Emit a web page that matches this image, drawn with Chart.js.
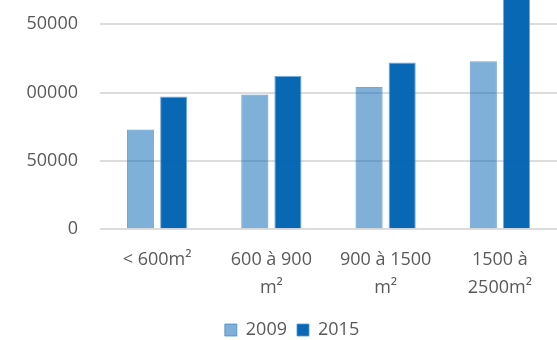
<!DOCTYPE html>
<html>
<head>
<meta charset="utf-8">
<script src="https://cdn.jsdelivr.net/npm/chart.js@4/dist/chart.umd.min.js"></script>
<style>
  html, body { margin: 0; padding: 0; background: #fff; overflow: hidden; }
  /* the reference picture is cut off above the 150000 line, so the canvas is shifted up */
  #wrap { width: 557px; height: 340px; overflow: hidden; }
  #barChart { display: block; margin-top: -77px; }
</style>
</head>
<body>
<div id="wrap"><canvas id="barChart" width="557" height="426"></canvas></div>
<script>
let categories = [['< 600m²'], ['600 à 900', 'm²'], ['900 à 1500', 'm²'], ['1500 à', '2500m²']];
let values2009 = [73000, 98500, 104000, 122800];
let values2015 = [97000, 112000, 122000, 185000];
let tickStep = 50000;
let axisMax = 200000;

let barChartDraw = function () {
    let painter = document.getElementById('barChart').getContext('2d');
    window.barChart = new Chart(painter, {
        type: 'bar',
        data: {
            labels: categories,
            datasets: [{
                label: '2009',
                data: values2009,
                backgroundColor: 'rgba(0, 99, 177, 0.5)',
                borderColor: 'rgba(60, 130, 200, 0.7)',
                borderWidth: 1
            }, {
                label: '2015',
                data: values2015,
                backgroundColor: 'rgba(0, 99, 177, 0.97)',
                borderColor: 'rgba(80, 150, 215, 0.8)',
                borderWidth: 1
            }]
        },
        options: {
            responsive: false,
            animation: false,
            categoryPercentage: 0.58,
            barPercentage: 0.82,
            // left padding pushes the legend right, the y axis is narrowed to keep the plot at x=100
            layout: { padding: { left: 27, right: 0, top: 0, bottom: 0 } },
            scales: {
                x: {
                    grid: { display: false },
                    border: { display: false },
                    ticks: {
                        color: '#595959',
                        font: { family: 'Open Sans', size: 18, lineHeight: 1.55 },
                        padding: 9,
                        maxRotation: 0
                    }
                },
                y: {
                    min: 0,
                    max: axisMax,
                    afterFit: function (scale) {
                        scale.width = 73;
                    },
                    grid: { color: '#dcdcdc', lineWidth: 2, drawTicks: false },
                    border: { display: false },
                    ticks: {
                        stepSize: tickStep,
                        color: '#595959',
                        font: { family: 'Open Sans', size: 18 },
                        padding: 22,
                        callback: v => String(v)
                    }
                }
            },
            plugins: {
                legend: {
                    display: true,
                    position: 'bottom',
                    labels: { boxWidth: 12, boxHeight: 12, color: '#595959', font: { family: 'Open Sans', size: 18 }, padding: 10 }
                },
                tooltip: { enabled: false }
            }
        }
    });
};

window.onload = function () {
    barChartDraw();
};
</script>
</body>
</html>
